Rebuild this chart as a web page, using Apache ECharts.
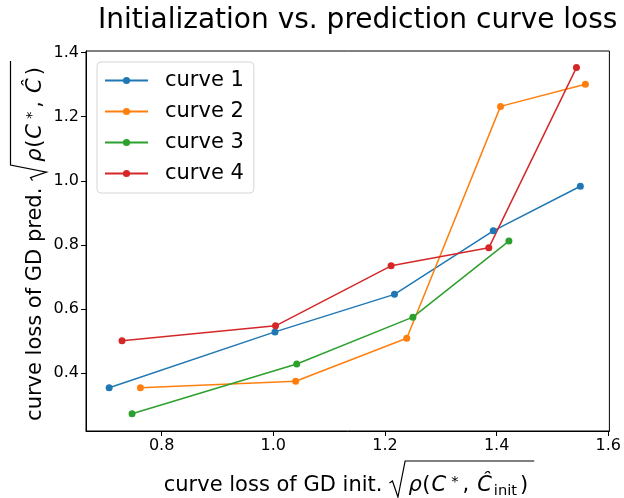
<!DOCTYPE html>
<html>
<head>
<meta charset="utf-8">
<script src="https://cdn.jsdelivr.net/npm/echarts@6/dist/echarts.min.js"></script>
<style>html,body{margin:0;padding:0;background:#fff;}#c{width:624px;height:498px;}</style>
</head>
<body>
<div id="c"></div>
<script>
const seriesNames = ['curve 1', 'curve 2', 'curve 3', 'curve 4'];
const curve1X = [0.706, 1.003, 1.217, 1.394, 1.550];
const curve1Y = [0.355, 0.529, 0.646, 0.844, 0.983];
const curve2X = [0.762, 1.040, 1.239, 1.407, 1.559];
const curve2Y = [0.355, 0.375, 0.509, 1.232, 1.301];
const curve3X = [0.747, 1.042, 1.250, 1.422];
const curve3Y = [0.274, 0.429, 0.575, 0.812];
const curve4X = [0.729, 1.004, 1.211, 1.386, 1.543];
const curve4Y = [0.501, 0.548, 0.735, 0.791, 1.353];
const xTicks = [0.8, 1.0, 1.2, 1.4, 1.6];
const yTicks = [0.4, 0.6, 0.8, 1.0, 1.2, 1.4];
const titleText = 'Initialization vs. prediction curve loss';
const xLabelText = 'curve loss of GD init.';
const yLabelText = 'curve loss of GD pred.';
const colors = ['#1f77b4', '#ff7f0e', '#2ca02c', '#d62728'];

const xs = [curve1X, curve2X, curve3X, curve4X];
const ys = [curve1Y, curve2Y, curve3Y, curve4Y];
const FONT = 'DejaVu Sans';
const S = 21;       // label font size
const SS = 14.7;    // sub/superscript size

const mctx = document.createElement('canvas').getContext('2d');
function fontStr(size, italic) { return (italic ? 'italic ' : '') + size + 'px "' + FONT + '"'; }

// Build a horizontally laid-out label (baseline at local y=0, centred on local x=0)
function mathLabel(segs) {
  let x = 0;
  const items = [];
  let radStart = null, radEnd = null;
  segs.forEach(sg => {
    if (sg.gap) { x += sg.gap; return; }
    if (sg.rad === 'start') { radStart = x; x += 19; return; }
    if (sg.rad === 'end') { radEnd = x + 6; return; }
    const size = sg.size || S;
    const f = fontStr(size, sg.it);
    mctx.font = f;
    const w = mctx.measureText(sg.t).width;
    items.push({x: x, y: (sg.dy || 0) - 0.297 * size, t: sg.t, f: f});
    x += w;
  });
  const total = Math.max(x, radEnd || 0);
  const off = -total / 2;
  const children = items.map(it => ({
    type: 'text', x: it.x + off, y: it.y,
    style: {text: it.t, font: it.f, fill: '#000', align: 'left', verticalAlign: 'middle'}
  }));
  if (radStart !== null) {
    const r = radStart + off;
    children.push({
      type: 'polyline',
      shape: {points: [[r, -9], [r + 3, -11], [r + 8.5, 5], [r + 15.7, -31], [radEnd + off, -31]]},
      style: {stroke: '#000', lineWidth: 1.2, fill: null, lineJoin: 'miter'}
    });
  }
  return children;
}

const xLabelSegs = [
  {t: xLabelText}, {gap: 7}, {rad: 'start'},
  {t: 'ρ', it: true}, {gap: 0.5}, {t: '('}, {gap: 1}, {t: 'C', it: true}, {gap: 5}, {t: '*', size: SS, dy: -5},
  {gap: 4}, {t: ','}, {gap: 8}, {t: 'Ĉ', it: true}, {gap: 2}, {t: 'init', size: SS, dy: 4}, {gap: 3}, {t: ')'}, {rad: 'end'}
];
const yLabelSegs = [
  {t: yLabelText}, {gap: 7}, {rad: 'start'},
  {t: 'ρ', it: true}, {gap: 0.5}, {t: '('}, {gap: 1}, {t: 'C', it: true}, {gap: 5}, {t: '*', size: SS, dy: -5},
  {gap: 4}, {t: ','}, {gap: 8}, {t: 'Ĉ', it: true}, {gap: 3}, {t: ')'}, {rad: 'end'}
];

const chart = echarts.init(document.getElementById('c'), null, {renderer: 'canvas'});
chart.setOption({
  animation: false,
  backgroundColor: '#fff',
  title: {
    text: titleText,
    left: 93, top: 2,
    textStyle: {fontFamily: FONT, fontSize: 28, fontWeight: 'normal', color: '#000'}
  },
  legend: {
    data: seriesNames,
    orient: 'vertical',
    left: 97, top: 62,
    padding: [8, 10, 9, 7],
    itemWidth: 43, itemHeight: 9, itemGap: 10,
    borderColor: '#d6d6d6', borderWidth: 1, borderRadius: 4,
    backgroundColor: '#fff',
    textStyle: {fontFamily: FONT, fontSize: 21, color: '#000', lineHeight: 21, padding: [0, 0, 0, 12]}
  },
  grid: {left: 86, right: 12, top: 51, bottom: 67, show: true, borderColor: '#000', borderWidth: 1, containLabel: false},
  xAxis: {
    type: 'value', min: 0.6645, max: 1.602,
    axisLine: {show: true, lineStyle: {color: '#000', width: 1}},
    axisTick: {show: true, inside: false, length: 5, lineStyle: {color: '#000'}, customValues: xTicks},
    axisLabel: {fontFamily: FONT, fontSize: 16, color: '#000', margin: 7, customValues: xTicks, formatter: v => v.toFixed(1)},
    splitLine: {show: false}
  },
  yAxis: {
    type: 'value', min: 0.220, max: 1.4047,
    axisLine: {show: true, lineStyle: {color: '#000', width: 1}},
    axisTick: {show: true, inside: false, length: 5, lineStyle: {color: '#000'}, customValues: yTicks},
    axisLabel: {fontFamily: FONT, fontSize: 16, color: '#000', margin: 7, customValues: yTicks, formatter: v => v.toFixed(1)},
    splitLine: {show: false}
  },
  graphic: [
    {type: 'group', x: 349, y: 492, children: mathLabel(xLabelSegs)},
    {type: 'group', x: 41.5, y: 241, rotation: Math.PI / 2, children: mathLabel(yLabelSegs)}
  ],
  series: seriesNames.map((n, i) => ({
    name: n, type: 'line',
    data: xs[i].map((x, j) => [x, ys[i][j]]),
    symbol: 'circle', symbolSize: 7,
    lineStyle: {color: colors[i], width: 1.5},
    itemStyle: {color: colors[i]},
    emphasis: {disabled: true}
  }))
});
</script>
</body>
</html>
